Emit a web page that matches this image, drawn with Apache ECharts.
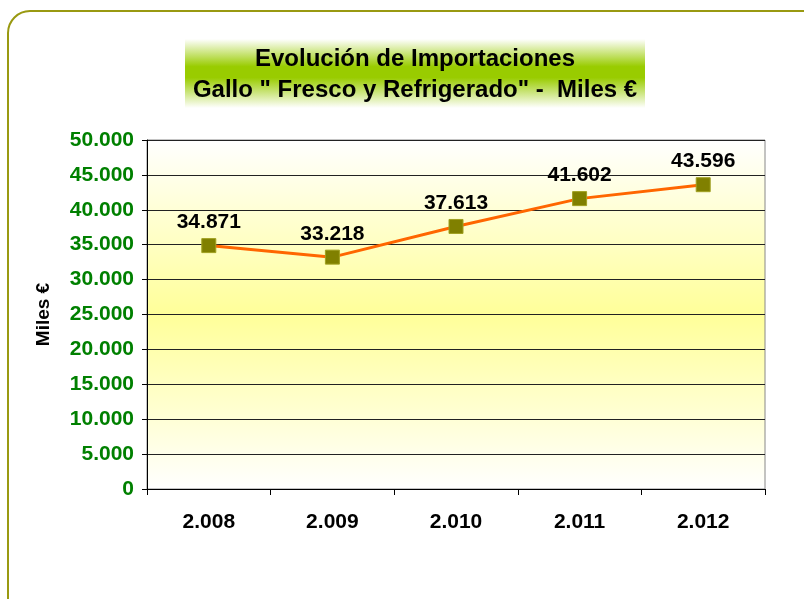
<!DOCTYPE html>
<html>
<head>
<meta charset="utf-8">
<script src="https://cdn.jsdelivr.net/npm/echarts@6/dist/echarts.min.js"></script>
<style>
  html, body { margin: 0; padding: 0; background: #fff; }
  #chart { width: 804px; height: 599px; }
</style>
</head>
<body>
<div id="chart"></div>
<script>
const years = ["2.008", "2.009", "2.010", "2.011", "2.012"];
const imports = [34871, 33218, 37613, 41602, 43596];
const titleLines = ["Evolución de Importaciones", "Gallo \" Fresco y Refrigerado\" -  Miles €"];

const FONT = '"Liberation Sans", Arial, sans-serif';

// miles con punto: 34871 -> 34.871
function fmt(v) {
  return String(Math.round(v)).replace(/\B(?=(\d{3})+(?!\d))/g, ".");
}

const chart = echarts.init(document.getElementById("chart"));

chart.setOption({
  animation: false,
  textStyle: { fontFamily: FONT },
  graphic: [
    {
      type: "rect",
      shape: { x: 8, y: 11, width: 900, height: 700, r: 22 },
      style: { fill: "none", stroke: "#999911", lineWidth: 2 },
      z: -10,
    },
    {
      type: "rect",
      shape: { x: 185, y: 39, width: 460, height: 69 },
      style: {
        fill: {
          type: "linear", x: 0, y: 0, x2: 0, y2: 1,
          colorStops: [
            { offset: 0, color: "#ffffff" },
            { offset: 0.4, color: "#99cc00" },
            { offset: 0.56, color: "#99cc00" },
            { offset: 1, color: "#ffffff" },
          ],
        },
      },
      z: -5,
    },
  ],
  title: {
    text: titleLines.join("\n"),
    left: 410,
    top: 39,
    textAlign: "center",
    textStyle: { fontFamily: FONT, fontSize: 24, fontWeight: "bold", color: "#000", lineHeight: 31 },
  },
  grid: {
    left: 147, right: 39, top: 140, bottom: 110,
    show: true,
    borderColor: "#888",
    borderWidth: 1,
    backgroundColor: {
      type: "linear", x: 0, y: 0, x2: 0, y2: 1,
      colorStops: [
        { offset: 0, color: "#ffffff" },
        { offset: 0.5, color: "#ffff99" },
        { offset: 1, color: "#ffffff" },
      ],
    },
  },
  xAxis: {
    type: "category",
    data: years,
    boundaryGap: true,
    axisLine: { lineStyle: { color: "#000", width: 1 } },
    axisTick: { show: true, length: 6, lineStyle: { color: "#000" } },
    axisLabel: { margin: 23, fontFamily: FONT, fontSize: 21, fontWeight: "bold", color: "#000" },
  },
  yAxis: {
    type: "value",
    min: 0, max: 50000, interval: 5000,
    name: "Miles €",
    nameLocation: "middle",
    nameGap: 94,
    nameTextStyle: { fontFamily: FONT, fontSize: 19, fontWeight: "bold", color: "#000" },
    axisLine: { show: true, lineStyle: { color: "#000", width: 1 } },
    axisTick: { show: true, length: 5, lineStyle: { color: "#000" } },
    splitLine: { lineStyle: { color: "#222", width: 1 } },
    axisLabel: {
      margin: 13, fontFamily: FONT, fontSize: 21, fontWeight: "bold", color: "#008000",
      formatter: fmt,
    },
  },
  series: [
    {
      type: "line",
      data: imports,
      symbol: "rect",
      symbolSize: 14,
      itemStyle: { color: "#808000", borderColor: "#a0a020", borderWidth: 1 },
      lineStyle: { color: "#ff6600", width: 3 },
      label: {
        show: true,
        position: "top",
        distance: 5,
        fontFamily: FONT, fontSize: 21, fontWeight: "bold", color: "#000",
        formatter: (p) => fmt(p.value),
      },
    },
  ],
});
</script>
</body>
</html>
